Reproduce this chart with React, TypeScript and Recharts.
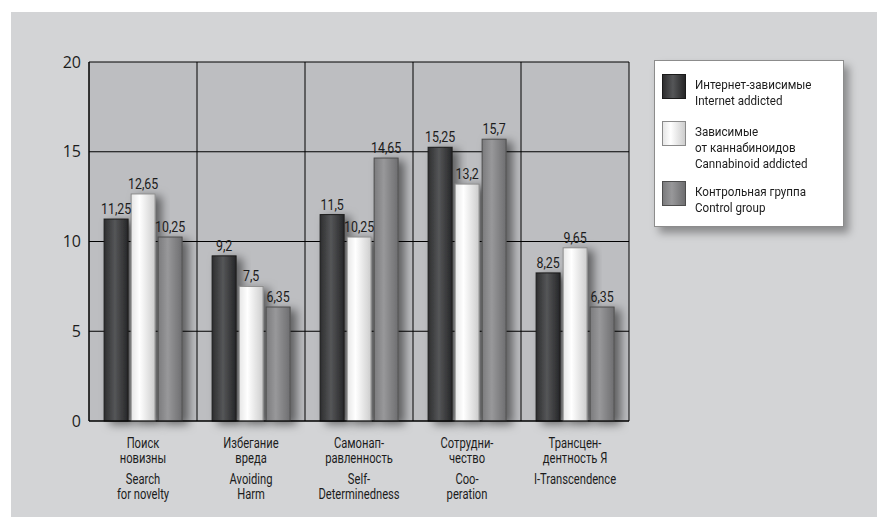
import React from 'react';
import { BarChart, Bar, XAxis, YAxis, CartesianGrid, LabelList } from 'recharts';

// categories (russian + english lines)
const categoriesRu = [
    ['Поиск', 'новизны'],
    ['Избегание', 'вреда'],
    ['Самонап-', 'равленность'],
    ['Сотрудни-', 'чество'],
    ['Трансцен-', 'дентность Я'],
];
const categoriesEn = [
    ['Search', 'for novelty'],
    ['Avoiding', 'Harm'],
    ['Self-', 'Determinedness'],
    ['Coo-', 'peration'],
    ['I-Transcendence'],
];

const internetAddicted = [11.25, 9.2, 11.5, 15.25, 8.25];
const cannabinoidAddicted = [12.65, 7.5, 10.25, 13.2, 9.65];
const controlGroup = [10.25, 6.35, 14.65, 15.7, 6.35];

const yTicks = [0, 5, 10, 15, 20];

const seriesKeys = ['internet', 'cannabis', 'control'];
const seriesLabels: Record<string, string[]> = {
    internet: ['Интернет-зависимые', 'Internet addicted'],
    cannabis: ['Зависимые', 'от каннабиноидов', 'Cannabinoid addicted'],
    control: ['Контрольная группа', 'Control group'],
};

const data = categoriesRu.map((ru, i) => ({
    name: `c${i}`,
    internet: internetAddicted[i],
    cannabis: cannabinoidAddicted[i],
    control: controlGroup[i],
}));

const NARROW = 'Roboto, "Noto Sans", sans-serif';
const SQUEEZE = 0.8;

const swatch: Record<string, { bg: string; border: string }> = {
    internet: { bg: 'linear-gradient(to right, #2e2e2f, #555658 45%, #262627)', border: '#1a1a1a' },
    cannabis: { bg: 'linear-gradient(to right, #e6e6e6, #ffffff 35%, #cdcdcd)', border: '#8a8a8a' },
    control: { bg: 'linear-gradient(to right, #7b7b7d, #98989a 40%, #6e6e70)', border: '#4d4d4d' },
};

const fmt = (v: any) => String(v).replace('.', ',');

const CategoryTick = (props: any) => {
    const { x, y, payload } = props;
    const idx = Number(String(payload.value).slice(1));
    const ru = categoriesRu[idx];
    const en = categoriesEn[idx];
    return (
        <g transform={`translate(${x},${y}) scale(${SQUEEZE},1)`}>
            <text textAnchor="middle" fontFamily={NARROW} fontSize={14} fill="#1c1c1c">
                {ru.map((l, i) => (
                    <tspan key={'r' + i} x={0} y={19 + i * 15}>{l}</tspan>
                ))}
                {en.map((l, i) => (
                    <tspan key={'e' + i} x={0} y={55 + i * 15}>{l}</tspan>
                ))}
            </text>
        </g>
    );
};

const ValueLabel = (props: any) => {
    const { x, y, width, value } = props;
    return (
        <g transform={`translate(${x + width / 2},${y - 5}) scale(${SQUEEZE},1)`}>
            <text textAnchor="middle" fontFamily={NARROW} fontSize={15.5} fill="#1c1c1c">
                {fmt(value)}
            </text>
        </g>
    );
};

const BarShape = (props: any) => {
    const { x, y, width, height, fill, stroke } = props;
    if (!height || height <= 0) return null;
    return <rect x={x} y={y} width={width} height={height} fill={fill} stroke={stroke} strokeWidth={1} filter="url(#barShadow)" />;
};

const ChartLegend = () => (
    <div
        style={{
            position: 'absolute',
            left: 654,
            top: 60,
            background: '#fff',
            border: '1px solid #8c8c8c',
            boxShadow: '5px 6px 8px rgba(0,0,0,0.35)',
            padding: '12px 7px 12px 7px',
            boxSizing: 'border-box',
            width: 190,
            height: 167,
        }}
    >
        {seriesKeys.map((key, i) => (
            <div key={key} style={{ display: 'flex', alignItems: 'flex-start', marginBottom: i === 0 ? 12 : 9 }}>
                <div
                    style={{
                        width: 22,
                        height: 23,
                        marginTop: 1,
                        background: swatch[key].bg,
                        border: `1px solid ${swatch[key].border}`,
                        flexShrink: 0,
                    }}
                />
                <div
                    style={{
                        marginLeft: 9,
                        paddingTop: 3,
                        fontFamily: NARROW,
                        fontSize: 13.5,
                        lineHeight: '16px',
                        color: '#1c1c1c',
                        whiteSpace: 'nowrap',
                        transform: 'scaleX(0.86)',
                        transformOrigin: 'left top',
                    }}
                >
                    {seriesLabels[key].map((l) => (
                        <div key={l}>{l}</div>
                    ))}
                </div>
            </div>
        ))}
    </div>
);

const App: React.FC = () => {
    return (
        <div style={{ position: 'absolute', left: 0, top: 0, width: 877, height: 517, background: '#fff', overflow: 'hidden' }}>
            <div style={{ position: 'absolute', left: 11, top: 12, width: 866, height: 505, background: '#d3d4d6' }} />
            <div style={{ position: 'absolute', left: 0, top: 0 }}>
                <BarChart
                    width={877}
                    height={517}
                    data={data}
                    margin={{ top: 62, right: 248, bottom: 0, left: 0 }}
                    barCategoryGap="14%"
                    barGap={3}
                >
                    <defs>
                        <linearGradient id="gDark" x1="0" y1="0" x2="1" y2="0">
                            <stop offset="0%" stopColor="#2e2e2f" />
                            <stop offset="45%" stopColor="#555658" />
                            <stop offset="100%" stopColor="#262627" />
                        </linearGradient>
                        <linearGradient id="gWhite" x1="0" y1="0" x2="1" y2="0">
                            <stop offset="0%" stopColor="#e6e6e6" />
                            <stop offset="35%" stopColor="#ffffff" />
                            <stop offset="100%" stopColor="#cdcdcd" />
                        </linearGradient>
                        <linearGradient id="gGray" x1="0" y1="0" x2="1" y2="0">
                            <stop offset="0%" stopColor="#7b7b7d" />
                            <stop offset="40%" stopColor="#98989a" />
                            <stop offset="100%" stopColor="#6e6e70" />
                        </linearGradient>
                        <filter id="barShadow" x="-60%" y="-10%" width="220%" height="130%">
                            <feDropShadow dx={6} dy={3} stdDeviation={5} floodColor="#000" floodOpacity={0.5} />
                        </filter>
                    </defs>
                    <CartesianGrid
                        fill="#bdbec1"
                        stroke="#000"
                        strokeWidth={1}
                        verticalCoordinatesGenerator={({ offset }: any) =>
                            categoriesRu.map((_, i) => offset.left + (i * offset.width) / categoriesRu.length).concat(offset.left + offset.width)
                        }
                    />
                    <XAxis
                        dataKey="name"
                        height={96}
                        axisLine={{ stroke: '#000' }}
                        tickLine={false}
                        tick={<CategoryTick />}
                        interval={0}
                    />
                    <YAxis
                        width={89}
                        domain={[0, 20]}
                        ticks={yTicks}
                        axisLine={{ stroke: '#000' }}
                        tickLine={false}
                        tick={{ fill: '#1c1c1c', fontSize: 16, fontFamily: '"Open Sans", "Noto Sans", sans-serif' }}
                    />
                    <Bar dataKey="internet" fill="url(#gDark)" stroke="#1a1a1a" shape={<BarShape />} isAnimationActive={false}>
                        <LabelList dataKey="internet" content={<ValueLabel />} />
                    </Bar>
                    <Bar dataKey="cannabis" fill="url(#gWhite)" stroke="#8a8a8a" shape={<BarShape />} isAnimationActive={false}>
                        <LabelList dataKey="cannabis" content={<ValueLabel />} />
                    </Bar>
                    <Bar dataKey="control" fill="url(#gGray)" stroke="#4d4d4d" shape={<BarShape />} isAnimationActive={false}>
                        <LabelList dataKey="control" content={<ValueLabel />} />
                    </Bar>
                </BarChart>
            </div>
            <ChartLegend />
        </div>
    );
};

export default App;
